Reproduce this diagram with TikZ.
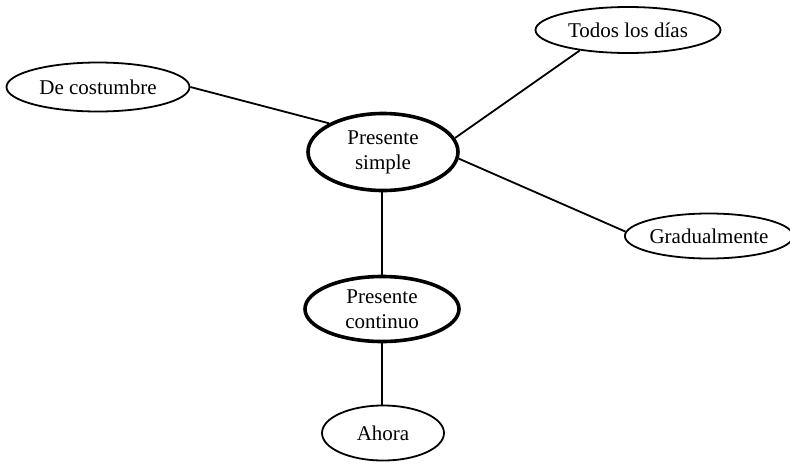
\documentclass[tikz,border=0pt]{standalone}
\usepackage{fontspec}
\setmainfont{Liberation Serif}
\usetikzlibrary{shapes.geometric}
\begin{document}
\begin{tikzpicture}[x=1pt,y=-1pt,
  bubble/.style={draw, ellipse, line width=1.8pt, inner sep=0pt, align=center,
    font=\fontsize{21}{25}\selectfont},
  bigbubble/.style={bubble, line width=3.6pt},
  link/.style={line width=1.8pt}]
\useasboundingbox (0,0) rectangle (790,464);
\node[bubble, minimum width=183pt, minimum height=49pt] (dc) at (98,87) {De costumbre};
\node[bubble, minimum width=185pt, minimum height=46pt] (todos) at (628,30) {Todos los días};
\node[bigbubble, minimum width=150pt, minimum height=77pt] (ps) at (383,152) {Presente\\simple};
\node[bubble, minimum width=158pt, minimum height=45pt] (grad) at (709,236) {Gradualmente};
\node[bigbubble, minimum width=154pt, minimum height=65pt] (pc) at (382,309) {Presente\\continuo};
\node[bubble, minimum width=122pt, minimum height=55pt] (ahora) at (383,433) {Ahora};
\draw[link] (ps.south) ++(-1,0) coordinate (psb) -- (psb |- pc.north);
\draw[link] (dc.0) -- (ps.152);
\draw[link] (todos.203) -- (ps.11);
\draw[link] (ps.-5) -- (grad.177);
\draw[link] (pc.south) -- (pc.south |- ahora.north);
\end{tikzpicture}
\end{document}
